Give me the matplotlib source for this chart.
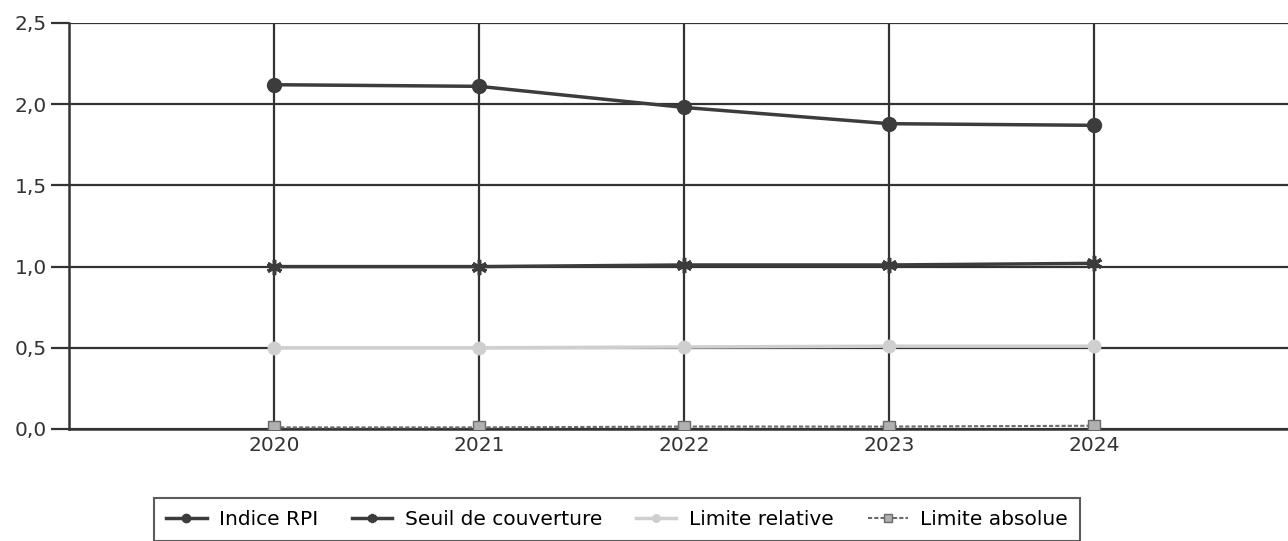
import matplotlib.pyplot as plt
from matplotlib.ticker import FuncFormatter

years = [2020, 2021, 2022, 2023, 2024]
rpi = [2.12, 2.11, 1.98, 1.88, 1.87]
seuil = [1.00, 1.00, 1.01, 1.01, 1.02]
lim_rel = [0.50, 0.50, 0.505, 0.51, 0.51]
lim_abs = [0.01, 0.01, 0.015, 0.015, 0.02]
labels = ['Indice RPI', 'Seuil de couverture', 'Limite relative', 'Limite absolue']

dark = '#3c3c3c'

fig = plt.figure(figsize=(12.88, 5.41), dpi=100)
ax = fig.add_axes([69 / 1288, 1 - 429 / 541, 1 - 69 / 1288, (429 - 23) / 541])

ax.plot(years, rpi, color=dark, lw=2.5, marker='o', ms=10, label=labels[0], zorder=5)
ax.plot(years, seuil, color=dark, lw=2.5, marker=(6, 2, 0), ms=11, mew=2.5,
        label=labels[1], zorder=5)
ax.plot(years, lim_rel, color='#cfcfcf', lw=2.5, marker='o', ms=9, label=labels[2], zorder=4)
ax.plot(years, lim_abs, color='#6a6a6a', lw=1.5, ls=(0, (2, 1)), marker='s', ms=9,
        mfc='#b0b0b0', mec='#6a6a6a', label=labels[3], zorder=4)

ax.set_xlim(2019, 2024 + 194 / 205)
ax.set_ylim(0, 2.5)
ax.set_xticks(years)
ax.set_yticks([0, 0.5, 1.0, 1.5, 2.0, 2.5])
ax.yaxis.set_major_formatter(FuncFormatter(lambda v, p: f'{v:.1f}'.replace('.', ',')))
ax.grid(True, color='#333333', lw=1.6)
ax.set_axisbelow(True)
for s in ['top', 'right']:
    ax.spines[s].set_visible(False)
for s in ['left', 'bottom']:
    ax.spines[s].set_color('#333333')
    ax.spines[s].set_linewidth(1.8)
ax.tick_params(axis='y', length=13, width=1.6, color='#333333', labelsize=14.5,
               labelcolor='#333333', pad=3)
ax.tick_params(axis='x', length=0, labelsize=14.5, labelcolor='#333333', pad=5)

leg = fig.legend(loc='lower center', bbox_to_anchor=(617 / 1288, 0.0), ncol=4,
                 fontsize=14.5, frameon=True, fancybox=False, edgecolor='#333333',
                 handlelength=2.0, handletextpad=0.6, columnspacing=1.7,
                 borderpad=0.6, borderaxespad=0, markerscale=0.6)
leg.get_frame().set_linewidth(1.5)

fig.savefig('out.png', dpi=100)
